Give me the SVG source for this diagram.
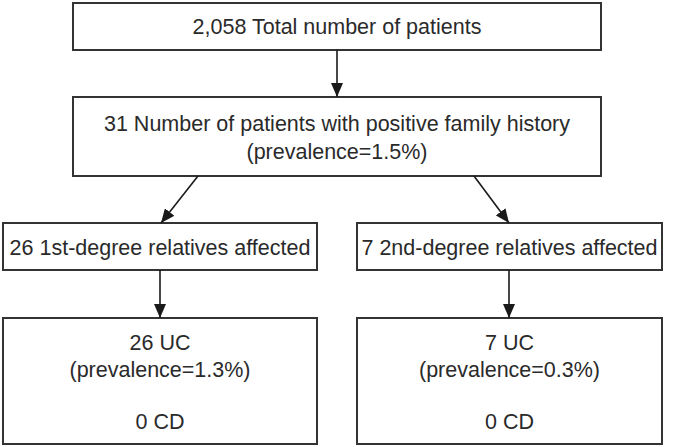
<svg xmlns="http://www.w3.org/2000/svg" width="674" height="447" viewBox="0 0 674 447">
<defs>
<marker id="ah" markerUnits="userSpaceOnUse" markerWidth="14" markerHeight="12" viewBox="0 0 14 12" refX="14" refY="6" orient="auto">
<path d="M0,0 L14,6 L0,12 Z" fill="#1a1a1a"/>
</marker>
<style>
rect{fill:#fff;stroke:#333;stroke-width:2}
text{font-family:"Liberation Sans",Arial,sans-serif;font-size:21.5px;fill:#2a2a2a;text-anchor:middle}
.c line{stroke:#1a1a1a;stroke-width:1.6;marker-end:url(#ah)}
</style>
</defs>
<rect x="0" y="0" width="674" height="447" style="fill:#fff;stroke:none"/>
<g id="total">
<rect x="73" y="3" width="528" height="47"/>
<text x="337" y="34">2,058 Total number of patients</text>
</g>
<g id="positive">
<rect x="73" y="97" width="528" height="79"/>
<text x="337" y="131">31 Number of patients with positive family history</text>
<text x="337" y="159">(prevalence=1.5%)</text>
</g>
<g id="first">
<rect x="3" y="223" width="314" height="47"/>
<text x="160" y="255">26 1st-degree relatives affected</text>
</g>
<g id="second">
<rect x="357" y="223" width="305" height="47"/>
<text x="509.5" y="255">7 2nd-degree relatives affected</text>
</g>
<g id="first-detail">
<rect x="3" y="318" width="314" height="126"/>
<text x="160" y="350">26 UC</text>
<text x="160" y="377">(prevalence=1.3%)</text>
<text x="160" y="429">0 CD</text>
</g>
<g id="second-detail">
<rect x="357" y="318" width="305" height="126"/>
<text x="509.5" y="350">7 UC</text>
<text x="509.5" y="377">(prevalence=0.3%)</text>
<text x="509.5" y="429">0 CD</text>
</g>
<g id="connectors" class="c">
<line x1="337" y1="50" x2="337" y2="97"/>
<line x1="198" y1="176" x2="161" y2="223"/>
<line x1="474" y1="176" x2="509" y2="223"/>
<line x1="160" y1="270" x2="160" y2="318"/>
<line x1="509" y1="270" x2="509" y2="318"/>
</g>
</svg>
